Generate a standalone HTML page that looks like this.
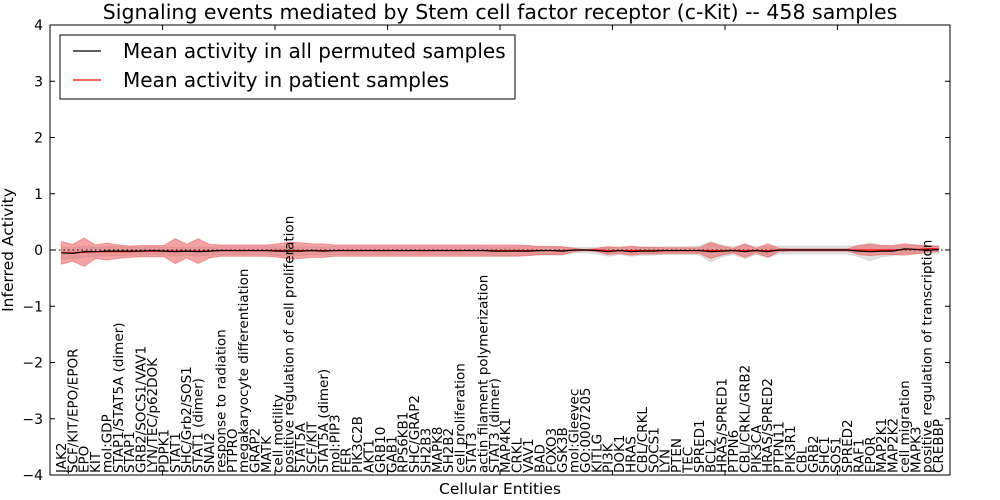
<!DOCTYPE html>
<html><head><meta charset="utf-8">
<style>body{margin:0;background:#fff}svg{display:block;font-family:"DejaVu Sans","Liberation Sans",sans-serif}</style>
</head><body>
<svg id="chart" width="1000" height="500"></svg>
<script>
const categories=["JAK2","SCF/KIT/EPO/EPOR","EPO","KIT","mol:GDP","STAP1/STAT5A (dimer)","STAP1","GRB2/SOCS1/VAV1","LYN/TEC/p62DOK","PDPK1","STAT1","SHC/Grb2/SOS1","STAT1 (dimer)","SNAI2","response to radiation","PTPRO","megakaryocyte differentiation","GRAP2","MATK","cell motility","positive regulation of cell proliferation","STAT5A","SCF/KIT","STAT5A (dimer)","mol:PIP3","FER","PIK3C2B","AKT1","GRB10","GAB1","RPS6KB1","SHC/GRAP2","SH2B3","MAPK8","SH2B2","cell proliferation","STAT3","actin filament polymerization","STAT3 (dimer)","MAP4K1","CRKL","VAV1","BAD","FOXO3","GSK3B","mol:Gleevec","GO:0007205","KITLG","PI3K","DOK1","HRAS","CBL/CRKL","SOCS1","LYN","PTEN","TEC","SPRED1","BCL2","HRAS/SPRED1","PTPN6","CBL/CRKL/GRB2","PIK3CA","HRAS/SPRED2","PTPN11","PIK3R1","CBL","GRB2","SHC1","SOS1","SPRED2","RAF1","EPOR","MAP2K1","MAP2K2","cell migration","MAPK3","positive regulation of transcription","CREBBP"];
const patientMean=[-0.05,-0.05,-0.04,-0.03,-0.03,-0.03,-0.03,-0.02,-0.02,-0.02,-0.02,-0.02,-0.02,-0.02,-0.01,-0.01,-0.01,-0.01,-0.01,-0.01,-0.01,-0.01,-0.01,-0.01,-0.01,-0.01,-0.01,-0.01,-0.01,-0.01,-0.01,-0.01,-0.01,-0.01,-0.01,-0.01,-0.01,-0.01,-0.01,-0.01,-0.01,-0.01,-0.01,-0.01,-0.01,0,0,0,-0.01,-0.01,-0.01,-0.01,-0.01,-0.01,-0.01,-0.01,-0.01,-0.01,-0.01,-0.01,-0.01,-0.01,-0.01,0,0,0,0,0,0,0,0,0,0,0,0.01,0.01,0.02,0.02];
const patientSd=[0.2,0.15,0.25,0.12,0.15,0.12,0.1,0.1,0.1,0.1,0.22,0.12,0.22,0.12,0.1,0.1,0.1,0.1,0.1,0.12,0.15,0.14,0.12,0.12,0.1,0.1,0.1,0.1,0.1,0.1,0.1,0.1,0.1,0.1,0.1,0.1,0.1,0.1,0.1,0.1,0.1,0.09,0.07,0.07,0.07,0.03,0.01,0.03,0.07,0.05,0.08,0.06,0.06,0.05,0.05,0.05,0.05,0.14,0.08,0.04,0.12,0.04,0.12,0.03,0.02,0.02,0.02,0.02,0.02,0.02,0.08,0.1,0.08,0.08,0.1,0.08,0.06,0.05];
const permutedMean=[-0.05,-0.06,-0.03,-0.03,-0.02,-0.02,-0.02,-0.02,-0.01,-0.02,-0.03,-0.02,-0.03,-0.02,-0.01,-0.01,-0.01,-0.01,-0.01,-0.02,-0.02,-0.02,-0.01,-0.02,-0.01,-0.01,-0.01,-0.01,-0.01,-0.01,-0.01,-0.01,-0.01,-0.01,-0.01,-0.01,-0.01,-0.01,-0.02,-0.02,-0.02,-0.02,-0.01,-0.01,-0.02,0,0,-0.01,-0.03,-0.01,-0.03,-0.02,-0.02,-0.01,-0.01,-0.01,-0.01,-0.03,-0.02,-0.01,-0.03,-0.01,-0.03,0,0,0,0,0,0,0,-0.02,-0.03,-0.02,-0.02,0.02,0.01,-0.01,0.01];
const permutedSd=[0.1,0.1,0.1,0.08,0.08,0.08,0.07,0.07,0.07,0.07,0.08,0.07,0.08,0.07,0.07,0.07,0.07,0.07,0.07,0.08,0.08,0.08,0.07,0.07,0.07,0.07,0.07,0.07,0.07,0.07,0.07,0.07,0.07,0.07,0.07,0.07,0.07,0.07,0.07,0.07,0.08,0.08,0.08,0.08,0.07,0.05,0.05,0.06,0.08,0.07,0.08,0.07,0.07,0.07,0.07,0.07,0.08,0.18,0.1,0.07,0.12,0.07,0.1,0.07,0.07,0.07,0.07,0.07,0.07,0.07,0.1,0.16,0.1,0.08,0.07,0.07,0.07,0.07];
const yTicks=[-4,-3,-2,-1,0,1,2,3,4];

const NS="http://www.w3.org/2000/svg";
const svg=document.getElementById('chart');
const L=50,R=950,T=25,B=475;
const x=i=>L+(i+1)*(R-L)/(categories.length+1);
const y=v=>T+(4-v)*(B-T)/8;
function mk(tag,attrs,parent){const e=document.createElementNS(NS,tag);for(const k in attrs)e.setAttribute(k,attrs[k]);(parent||svg).appendChild(e);return e;}
function band(mean,sd,fill,name){
  let up=mean.map((m,i)=>x(i)+','+y(m+sd[i]));
  let dn=mean.map((m,i)=>x(i)+','+y(m-sd[i])).reverse();
  const p=mk('polygon',{points:up.concat(dn).join(' '),fill:fill,stroke:fill,'stroke-width':1});
  
  
}
function line(mean,color,name){
  const p=mk('polyline',{points:mean.map((m,i)=>x(i)+','+y(m)).join(' '),fill:'none',stroke:color,'stroke-width':1.2});
  
  
}
band(permutedMean,permutedSd,'rgba(190,190,190,0.45)','permuted-band');
band(patientMean,patientSd,'rgba(235,90,90,0.55)','patient-band');
const zl=mk('line',{x1:L,x2:R,y1:y(0),y2:y(0),stroke:'#000','stroke-dasharray':'1.5,3','stroke-width':1});


line(patientMean,'#ff0000','patient-mean-line');
line(permutedMean,'#000000','permuted-mean-line');
const fr=mk('rect',{x:L,y:T,width:R-L,height:B-T,fill:'none',stroke:'#000','stroke-width':1});


yTicks.forEach(v=>{
  mk('line',{x1:L,x2:L+5,y1:y(v),y2:y(v),stroke:'#000'});
  mk('line',{x1:R,x2:R-5,y1:y(v),y2:y(v),stroke:'#000'});
  const t=mk('text',{x:L-7,y:y(v)+5,'text-anchor':'end','font-size':14});
  t.textContent=(v<0?'\u2212':'')+Math.abs(v);
  
  
});
for(let k=1;k<8;k++){const xx=L+k*112.5;mk('line',{x1:xx,x2:xx,y1:T,y2:T+5,stroke:'#000'});mk('line',{x1:xx,x2:xx,y1:B,y2:B-5,stroke:'#000'});}
categories.forEach((c,i)=>{
  const t=mk('text',{transform:`translate(${x(i)+4.5},473) rotate(-90)`,'font-size':13.5});
  t.textContent=c;
  
  
});
</script>
<svg width="1000" height="500" style="position:absolute;left:0;top:0">
<text x="500" y="19" text-anchor="middle" font-size="20.5">Signaling events mediated by Stem cell factor receptor (c-Kit) -- 458 samples</text>
<text transform="translate(13,250) rotate(-90)" text-anchor="middle" font-size="15.5">Inferred Activity</text>
<text x="500" y="494" text-anchor="middle" font-size="15.5">Cellular Entities</text>
<g>
<rect x="60" y="35" width="455" height="64" fill="#fff" stroke="#000" stroke-width="1"/>
<line x1="73" x2="101" y1="51" y2="51" stroke="#000" stroke-width="1.2"/>
<text x="123" y="58" font-size="20">Mean activity in all permuted samples</text>
<line x1="73" x2="101" y1="80" y2="80" stroke="#f00" stroke-width="1.2"/>
<text x="123" y="87" font-size="20">Mean activity in patient samples</text>
</g>
</svg>
</body></html>
